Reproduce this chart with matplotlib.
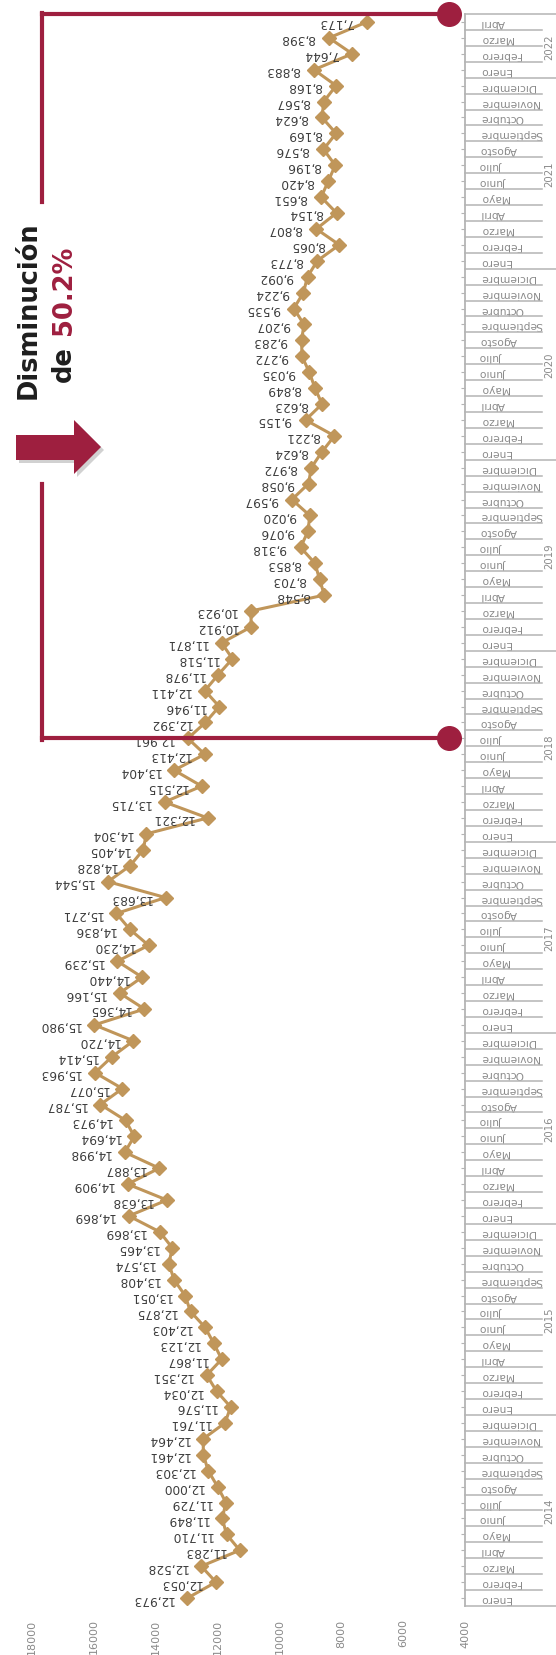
import matplotlib.pyplot as plt
import numpy as np
from matplotlib.patches import Polygon
from matplotlib.transforms import Affine2D, blended_transform_factory

plt.rcParams['font.family'] = ['DejaVu Sans']

# datos mensuales, enero 2014 - abril 2022
meses = ["Enero", "Febrero", "Marzo", "Abril", "Mayo", "Junio", "Julio",
         "Agosto", "Septiembre", "Octubre", "Noviembre", "Diciembre"]
anios = ["2014", "2015", "2016", "2017", "2018", "2019", "2020", "2021", "2022"]

valores_2014 = [12973, 12053, 12528, 11283, 11710, 11849, 11729, 12000, 12303, 12461, 12464, 11761]
valores_2015 = [11576, 12034, 12351, 11867, 12123, 12403, 12875, 13051, 13408, 13574, 13465, 13869]
valores_2016 = [14869, 13638, 14909, 13887, 14998, 14694, 14973, 15787, 15077, 15963, 15414, 14720]
valores_2017 = [15980, 14365, 15166, 14440, 15239, 14230, 14836, 15271, 13683, 15544, 14828, 14405]
valores_2018 = [14304, 12321, 13715, 12515, 13404, 12413, 12961, 12392, 11946, 12411, 11978, 11518]
valores_2019 = [11871, 10912, 10923, 8548, 8703, 8853, 9318, 9076, 9020, 9597, 9058, 8972]
valores_2020 = [8624, 8221, 9155, 8623, 8849, 9035, 9272, 9283, 9207, 9535, 9224, 9092]
valores_2021 = [8773, 8065, 8807, 8154, 8651, 8420, 8196, 8576, 8169, 8624, 8567, 8168]
valores_2022 = [8883, 7644, 8398, 7173]

valores = (valores_2014 + valores_2015 + valores_2016 + valores_2017 + valores_2018
           + valores_2019 + valores_2020 + valores_2021 + valores_2022)
n = len(valores)
etiquetas = [meses[i % 12] for i in range(n)]
idx = np.arange(n)

# inicio del tramo marcado (julio 2018 -> abril 2022)
i_inicio = etiquetas.index("Julio", 48)
texto_1 = "Disminución"
texto_2 = "de"
texto_pct = "50.2%"

ORO = '#C0965A'
ROJO = '#9E1F3F'
GRIS = '#8a8a8a'
GRIS_L = '#b4b4b4'

W, H = 556, 1656
fig = plt.figure(figsize=(W / 100, H / 100), dpi=100)
ax = fig.add_axes([32 / W, 49 / H, 433 / W, 1592 / H])
# coordenadas en pixeles desde arriba a la izquierda
px = Affine2D().scale(1 / W, -1 / H).translate(0, 1) + fig.transFigure

ax.plot(valores, idx, color=ORO, lw=2.2, marker='D', ms=7, zorder=3)
for v, i in zip(valores, idx):
    ax.annotate(f"{v:,}", (v, i), xytext=(-10, 0), textcoords='offset points',
                rotation=180, ha='right', va='center', fontsize=8.7, color='#3c3c3c')

ax.set_xlim(18000, 4000)
ax.set_ylim(-0.5, n - 0.5)
ax.set_xticks(np.arange(4000, 18001, 2000))
ax.set_xticklabels([str(t) for t in range(4000, 18001, 2000)], rotation=90,
                   fontsize=8, color=GRIS)
ax.tick_params(axis='x', length=0, pad=9)
ax.yaxis.tick_right()
ax.set_yticks(idx)
ax.set_yticklabels(etiquetas, rotation=180, fontsize=7.7, color=GRIS, va='center')
ax.tick_params(axis='y', direction='in', length=3, color=GRIS_L, pad=11)
for s in ['top', 'left', 'bottom']:
    ax.spines[s].set_visible(False)
ax.spines['right'].set_color(GRIS_L)
ax.spines['right'].set_linewidth(1.3)

# separadores de meses y años
bt = blended_transform_factory(ax.transAxes, ax.transData)
for b in np.arange(-0.5, n, 1.0):
    anio = (b + 0.5) % 12 == 0 or b == n - 0.5
    x_fin = 1.35 if anio else (542 - 32) / 433
    ax.plot([1.0, x_fin], [b, b], color=GRIS_L, lw=1.1, transform=bt, clip_on=False)
for k, a in enumerate(anios):
    centro = (k * 12 + min(k * 12 + 11, n - 1)) / 2
    ax.text((544 - 32) / 433, centro, a, transform=bt, rotation=90, ha='left',
            va='center', fontsize=7.3, color=GRIS, clip_on=False)

# llave roja
y_top = 15
y_ini = H - ax.transData.transform((4000, i_inicio))[1]
x_l, x_r = 42, 449
lw_r = 3
fig.add_artist(plt.Line2D([x_l, x_r], [y_top, y_top], color=ROJO, lw=lw_r, transform=px))
fig.add_artist(plt.Line2D([x_l, x_r], [y_ini, y_ini], color=ROJO, lw=lw_r, transform=px))
fig.add_artist(plt.Line2D([x_l, x_l], [y_top - 1.5, 203], color=ROJO, lw=lw_r, transform=px))
fig.add_artist(plt.Line2D([x_l, x_l], [485, y_ini + 1.5], color=ROJO, lw=lw_r, transform=px))
fig.add_artist(plt.Line2D([x_r, x_r], [y_top, y_ini], ls='none', marker='o', ms=17,
                          color=ROJO, transform=px))

# flecha con sombra
flecha = np.array([[16, 436], [74, 436], [74, 421], [101, 448], [74, 475], [74, 461], [16, 461]])
fig.add_artist(Polygon(flecha + [3, 3], closed=True, color='#000000', alpha=0.18,
                       lw=0, transform=px))
fig.add_artist(Polygon(flecha, closed=True, color=ROJO, lw=0, transform=px))

fig.text(29 / W, 1 - 310 / H, texto_1, rotation=90, ha='center', va='center',
         fontsize=18.5, fontweight='bold', color='#1e1e1e')
fig.text(64 / W, 1 - 364 / H, texto_2, rotation=90, ha='center', va='center',
         fontsize=18.5, fontweight='bold', color='#1e1e1e')
fig.text(64 / W, 1 - 290 / H, texto_pct, rotation=90, ha='center', va='center',
         fontsize=18.5, fontweight='bold', color=ROJO)

fig.savefig('out.png', dpi=100)
